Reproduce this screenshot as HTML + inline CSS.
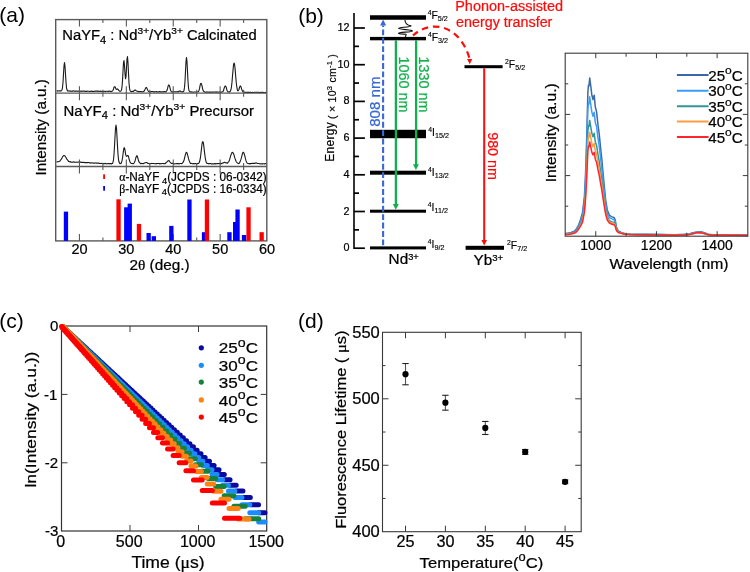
<!DOCTYPE html>
<html><head><meta charset="utf-8"><style>
html,body{margin:0;padding:0;background:#fff;width:750px;height:572px;overflow:hidden}
svg{display:block;font-family:"Liberation Sans", sans-serif;will-change:transform}
</style></head><body>
<svg width="750" height="572" viewBox="0 0 750 572">
<rect width="750" height="572" fill="#fff"/>
<text x="-0.7" y="22.4" font-size="21" text-anchor="start" fill="#000" >(a)</text>
<polyline points="56.5,90.92 57,90.83 57.5,91.09 58,90.8 58.5,91.04 59,90.95 59.5,90.8 60,91.03 60.5,90.79 61,90.96 61.5,90.57 62,89.76 62.5,87.51 63,82.45 63.5,73.99 64,65.92 64.5,62.62 65,66.29 65.5,74.23 66,82.26 66.5,87.81 67,89.77 67.5,91.01 68,90.93 68.5,90.9 69,90.9 69.5,91 70,91.26 70.5,90.94 71,91.15 71.5,91.18 72,91.05 72.5,91.14 73,90.9 73.5,90.9 74,90.98 74.5,91.22 75,91.1 75.5,91.05 76,91.18 76.5,91.12 77,91.05 77.5,91.3 78,91.26 78.5,91.03 79,91.2 79.5,91.18 80,91.36 80.5,91.29 81,91.07 81.5,91.42 82,90.99 82.5,91.15 83,91.32 83.5,91.02 84,91.19 84.5,90.97 85,91.29 85.5,91.34 86,91.25 86.5,91.4 87,91.13 87.5,91.32 88,91.27 88.5,91.27 89,91.21 89.5,91.41 90,91.46 90.5,91.23 91,91.33 91.5,91.03 92,91.36 92.5,91.33 93,91.51 93.5,91.43 94,91.16 94.5,91.22 95,91.36 95.5,91.04 96,91.27 96.5,91.12 97,91.1 97.5,91.07 98,91.43 98.5,91.12 99,91.18 99.5,91.25 100,91.5 100.5,91.11 101,91.29 101.5,91.35 102,91.52 102.5,91.49 103,91.52 103.5,91.23 104,91.3 104.5,91.27 105,91.54 105.5,91.58 106,91.18 106.5,91.2 107,91.23 107.5,91.23 108,91.36 108.5,91.42 109,91.26 109.5,91.13 110,91.34 110.5,91.32 111,91.42 111.5,91.58 112,91.34 112.5,90.92 113,90.22 113.5,89 114,87.24 114.5,86.71 115,86.75 115.5,87.83 116,88.99 116.5,89.37 117,89.28 117.5,88.94 118,89.51 118.5,89.97 119,90.67 119.5,91.12 120,91.24 120.5,91.32 121,90.93 121.5,89.88 122,86.97 122.5,80.61 123,71.39 123.5,62.65 124,60.58 124.5,65.58 125,73.73 125.5,78.82 126,76.6 126.5,68.08 127,58.91 127.5,56.65 128,62.85 128.5,73.35 129,82.85 129.5,88.17 130,90.46 130.5,91.27 131,91.39 131.5,91.7 132,91.36 132.5,91.27 133,91.66 133.5,91.26 134,90.75 134.5,90.53 135,89.93 135.5,90.09 136,90.53 136.5,90.88 137,91.19 137.5,91.25 138,91.44 138.5,91.4 139,91.72 139.5,91.61 140,91.74 140.5,91.52 141,91.47 141.5,91.76 142,91.85 142.5,91.78 143,91.73 143.5,91.62 144,91.28 144.5,90.38 145,89.53 145.5,88.35 146,87.47 146.5,87.56 147,88.53 147.5,89.64 148,90.8 148.5,91.5 149,91.51 149.5,91.85 150,91.91 150.5,91.9 151,91.61 151.5,91.54 152,91.55 152.5,91.53 153,91.54 153.5,91.76 154,91.9 154.5,91.87 155,91.69 155.5,91.78 156,91.86 156.5,91.51 157,91.8 157.5,91.93 158,91.87 158.5,91.85 159,91.72 159.5,91.58 160,91.88 160.5,91.66 161,91.9 161.5,91.99 162,91.7 162.5,91.71 163,91.98 163.5,91.88 164,91.6 164.5,91.58 165,91.59 165.5,91.93 166,91.72 166.5,90.94 167,90.29 167.5,88.73 168,86.6 168.5,85 169,84.95 169.5,85.99 170,87.87 170.5,90.11 171,91.07 171.5,91.56 172,91.97 172.5,91.78 173,92.01 173.5,92 174,91.69 174.5,91.72 175,91.74 175.5,91.72 176,91.9 176.5,91.74 177,91.82 177.5,91.65 178,91.97 178.5,91.49 179,91.21 179.5,90.98 180,91.11 180.5,91.13 181,91.73 181.5,91.76 182,91.88 182.5,91.9 183,91.61 183.5,91.57 184,90.44 184.5,87.41 185,81.43 185.5,71.27 186,61.56 186.5,57.44 187,61.61 187.5,71.36 188,81.31 188.5,87.72 189,90.78 189.5,91.44 190,91.93 190.5,91.82 191,91.85 191.5,92.1 192,91.97 192.5,92 193,92.1 193.5,92.18 194,91.95 194.5,92.04 195,91.99 195.5,92 196,92.09 196.5,91.97 197,92.01 197.5,91.94 198,92.01 198.5,91.42 199,90.46 199.5,88.66 200,85.93 200.5,83.93 201,83.25 201.5,84.08 202,85.88 202.5,88.28 203,90.27 203.5,91.14 204,91.7 204.5,91.78 205,92.13 205.5,92.2 206,92.26 206.5,91.9 207,92.18 207.5,92.16 208,91.9 208.5,92.28 209,92.32 209.5,91.95 210,92.32 210.5,92.05 211,92.1 211.5,92.35 212,92.28 212.5,91.94 213,92.08 213.5,92.13 214,92.04 214.5,91.97 215,92.04 215.5,92.24 216,91.9 216.5,92.17 217,92.11 217.5,91.91 218,92.07 218.5,92.22 219,92.16 219.5,91.94 220,92.41 220.5,92.31 221,92.41 221.5,91.96 222,91.99 222.5,91.69 223,91.58 223.5,90.35 224,88.76 224.5,87.16 225,86.14 225.5,85.97 226,86.77 226.5,88.44 227,90.44 227.5,91.36 228,91.99 228.5,91.91 229,91.93 229.5,92.14 230,91.68 230.5,90.71 231,89.52 231.5,86.48 232,82.16 232.5,76.08 233,70.37 233.5,64.99 234,63.02 234.5,63.86 235,67.9 235.5,73.87 236,80.08 236.5,84.74 237,88.12 237.5,90.26 238,90.8 238.5,90.38 239,89.22 239.5,87.53 240,86.25 240.5,85.94 241,86.78 241.5,88.61 242,90.01 242.5,91.29 243,91.77 243.5,92.13 244,92.06 244.5,92.21 245,92.1 245.5,92.46 246,92.38 246.5,92.2 247,92.35 247.5,92.58 248,92.17 248.5,92.53 249,92.34 249.5,92.37 250,92.55 250.5,92.33 251,92.39 251.5,92.48 252,92.63 252.5,92.32 253,92.57 253.5,92.51 254,92.48 254.5,92.36 255,92.34 255.5,92.2 256,92.24 256.5,92.21 257,92.55 257.5,92.31 258,92.27 258.5,92.23 259,92.61 259.5,92.63 260,92.54 260.5,92.34 261,92.33 261.5,92.36 262,92.44 262.5,92.3 263,92.44 263.5,92.36 264,92.71 264.5,92.72 265,92.51 265.5,92.36 266,92.73" fill="none" stroke="#1a1a1a" stroke-width="1.1" stroke-linejoin="round" />
<polyline points="56.5,161.88 57,161.87 57.5,161.66 58,161.79 58.5,161.73 59,161.59 59.5,161.19 60,160.98 60.5,160.22 61,159.69 61.5,158.8 62,158.07 62.5,157.01 63,156.21 63.5,155.77 64,155.44 64.5,155.66 65,156.01 65.5,156.78 66,157.57 66.5,158.5 67,159.46 67.5,159.98 68,160.58 68.5,161.38 69,161.29 69.5,161.8 70,161.9 70.5,161.68 71,162.13 71.5,162.19 72,162.08 72.5,162.15 73,162.2 73.5,161.87 74,162.08 74.5,162.08 75,162.26 75.5,162.25 76,162.27 76.5,162.16 77,162.33 77.5,162.24 78,162.25 78.5,162.03 79,161.94 79.5,162.01 80,162.13 80.5,162.03 81,162.43 81.5,162.32 82,162.38 82.5,162.41 83,162.47 83.5,162.4 84,162.19 84.5,162.62 85,162.62 85.5,162.53 86,162.58 86.5,162.67 87,162.4 87.5,162.77 88,162.56 88.5,162.5 89,162.62 89.5,162.88 90,162.65 90.5,162.95 91,163.1 91.5,162.89 92,162.86 92.5,162.94 93,163.07 93.5,163.14 94,163.1 94.5,163.14 95,162.89 95.5,162.95 96,163.04 96.5,163.31 97,163.12 97.5,163.28 98,163.04 98.5,163.09 99,163.22 99.5,163.46 100,163.5 100.5,163.5 101,163.33 101.5,163.46 102,163.45 102.5,163.47 103,163.31 103.5,163.71 104,163.38 104.5,163.79 105,163.78 105.5,163.34 106,163.58 106.5,163.78 107,163.87 107.5,163.62 108,163.55 108.5,163.54 109,163.92 109.5,163.57 110,163.77 110.5,163.57 111,163.77 111.5,163.98 112,163.48 112.5,163.45 113,162.2 113.5,159.76 114,154.53 114.5,146.27 115,136.95 115.5,128.53 116,125.03 116.5,128.28 117,136.73 117.5,146.36 118,154.3 118.5,159.35 119,162.07 119.5,163.14 120,163.75 120.5,163.33 121,163.43 121.5,162.69 122,160.65 122.5,158.18 123,154.21 123.5,150.44 124,147.74 124.5,147.87 125,150.18 125.5,153.58 126,155.71 126.5,156.41 127,156.09 127.5,155.46 128,155.46 128.5,156.58 129,158.71 129.5,160.28 130,162.09 130.5,162.7 131,163.21 131.5,163.55 132,163.46 132.5,163.56 133,163.78 133.5,163.57 134,163.1 134.5,162.18 135,160.97 135.5,159.22 136,157.25 136.5,156.15 137,155.69 137.5,157.03 138,158.58 138.5,160.53 139,161.92 139.5,162.67 140,163.04 140.5,163.7 141,163.38 141.5,163.58 142,163.52 142.5,163.48 143,163.66 143.5,163.7 144,163.19 144.5,163.19 145,162.77 145.5,162.71 146,162.56 146.5,162.52 147,162.71 147.5,162.97 148,163.52 148.5,163.47 149,163.41 149.5,163.8 150,163.86 150.5,163.59 151,163.44 151.5,163.46 152,163.41 152.5,163.54 153,163.42 153.5,163.49 154,163.5 154.5,163.66 155,163.82 155.5,163.75 156,163.58 156.5,163.58 157,163.64 157.5,163.57 158,163.55 158.5,163.41 159,163.52 159.5,163.86 160,163.44 160.5,163.63 161,163.7 161.5,163.82 162,163.49 162.5,163.52 163,163.51 163.5,163.58 164,163.58 164.5,163.79 165,163.63 165.5,163.44 166,162.67 166.5,162.19 167,161.94 167.5,161.45 168,160.8 168.5,160.69 169,160.56 169.5,161.2 170,162.06 170.5,162.6 171,163.1 171.5,163.49 172,163.34 172.5,163.38 173,163.45 173.5,163.65 174,163.74 174.5,163.87 175,163.77 175.5,163.73 176,163.79 176.5,163.64 177,163.68 177.5,163.43 178,163.8 178.5,163.53 179,163.87 179.5,163.73 180,163.56 180.5,163.47 181,163.51 181.5,163.64 182,163.53 182.5,162.95 183,162.38 183.5,161.67 184,160.31 184.5,158.37 185,156.2 185.5,154.4 186,152.66 186.5,152.27 187,152.88 187.5,154.58 188,156.41 188.5,158.63 189,160.26 189.5,161.54 190,162.48 190.5,163.39 191,163.55 191.5,163.49 192,163.41 192.5,163.67 193,163.77 193.5,163.64 194,163.56 194.5,163.77 195,163.9 195.5,163.55 196,163.45 196.5,163.61 197,163.64 197.5,163.74 198,163.42 198.5,163.5 199,162.96 199.5,161.8 200,159.77 200.5,157.2 201,152.89 201.5,148.64 202,144.27 202.5,141.71 203,141.73 203.5,143.64 204,147.83 204.5,152.11 205,156.09 205.5,159.28 206,161.47 206.5,162.78 207,163.52 207.5,163.38 208,163.6 208.5,163.55 209,163.94 209.5,163.53 210,163.49 210.5,163.49 211,163.66 211.5,163.91 212,163.91 212.5,163.83 213,163.96 213.5,163.93 214,163.63 214.5,163.56 215,163.94 215.5,163.84 216,163.49 216.5,163.8 217,163.66 217.5,163.66 218,163.64 218.5,163.56 219,163.47 219.5,163.6 220,163.62 220.5,163.88 221,163.4 221.5,163.71 222,163.18 222.5,163.06 223,163.08 223.5,162.88 224,162.55 224.5,162.3 225,162.56 225.5,162.63 226,163.06 226.5,162.83 227,162.96 227.5,163.12 228,162.35 228.5,161.94 229,161.23 229.5,159.96 230,158.08 230.5,156.4 231,154.75 231.5,153.76 232,152.46 232.5,152.37 233,152.79 233.5,153.47 234,154.86 234.5,156.87 235,158.39 235.5,159.74 236,161.23 236.5,161.98 237,162.62 237.5,162.9 238,163.49 238.5,163.6 239,163.28 239.5,163 240,161.76 240.5,160.66 241,159.15 241.5,157.43 242,155.41 242.5,153.41 243,152.32 243.5,152.31 244,153.2 244.5,155.02 245,156.64 245.5,158.95 246,160.63 246.5,161.98 247,162.83 247.5,163.28 248,163.43 248.5,163.57 249,163.65 249.5,163.88 250,163.53 250.5,163.57 251,163.81 251.5,163.51 252,163.35 252.5,163.25 253,163.41 253.5,163.2 254,163.44 254.5,163.32 255,163.33 255.5,162.97 256,162.91 256.5,162.98 257,163.28 257.5,163.48 258,163.45 258.5,163.43 259,163.59 259.5,163.75 260,163.82 260.5,163.88 261,163.94 261.5,163.86 262,163.6 262.5,163.96 263,163.69 263.5,163.83 264,163.73 264.5,163.92 265,163.65 265.5,163.67 266,163.67" fill="none" stroke="#1a1a1a" stroke-width="1.1" stroke-linejoin="round" />
<rect x="55.7" y="19.6" width="211.1" height="221.3" fill="none" stroke="#5a5a5a" stroke-width="1.4"/>
<line x1="55.7" y1="93.2" x2="266.8" y2="93.2" stroke="#5a5a5a" stroke-width="1.3" />
<line x1="55.7" y1="166.5" x2="266.8" y2="166.5" stroke="#5a5a5a" stroke-width="1.3" />
<line x1="79.45" y1="19.6" x2="79.45" y2="26.6" stroke="#5a5a5a" stroke-width="1.1" />
<line x1="79.45" y1="93.2" x2="79.45" y2="86.2" stroke="#5a5a5a" stroke-width="1.1" />
<line x1="79.45" y1="93.2" x2="79.45" y2="100.2" stroke="#5a5a5a" stroke-width="1.1" />
<line x1="79.45" y1="166.5" x2="79.45" y2="159.5" stroke="#5a5a5a" stroke-width="1.1" />
<line x1="79.45" y1="166.5" x2="79.45" y2="173.5" stroke="#5a5a5a" stroke-width="1.1" />
<line x1="79.45" y1="240.9" x2="79.45" y2="233.9" stroke="#5a5a5a" stroke-width="1.1" />
<line x1="102.9" y1="19.6" x2="102.9" y2="23.1" stroke="#5a5a5a" stroke-width="1.1" />
<line x1="102.9" y1="93.2" x2="102.9" y2="89.7" stroke="#5a5a5a" stroke-width="1.1" />
<line x1="102.9" y1="93.2" x2="102.9" y2="96.7" stroke="#5a5a5a" stroke-width="1.1" />
<line x1="102.9" y1="166.5" x2="102.9" y2="163" stroke="#5a5a5a" stroke-width="1.1" />
<line x1="102.9" y1="166.5" x2="102.9" y2="170" stroke="#5a5a5a" stroke-width="1.1" />
<line x1="102.9" y1="240.9" x2="102.9" y2="237.4" stroke="#5a5a5a" stroke-width="1.1" />
<line x1="126.35" y1="19.6" x2="126.35" y2="26.6" stroke="#5a5a5a" stroke-width="1.1" />
<line x1="126.35" y1="93.2" x2="126.35" y2="86.2" stroke="#5a5a5a" stroke-width="1.1" />
<line x1="126.35" y1="93.2" x2="126.35" y2="100.2" stroke="#5a5a5a" stroke-width="1.1" />
<line x1="126.35" y1="166.5" x2="126.35" y2="159.5" stroke="#5a5a5a" stroke-width="1.1" />
<line x1="126.35" y1="166.5" x2="126.35" y2="173.5" stroke="#5a5a5a" stroke-width="1.1" />
<line x1="126.35" y1="240.9" x2="126.35" y2="233.9" stroke="#5a5a5a" stroke-width="1.1" />
<line x1="149.8" y1="19.6" x2="149.8" y2="23.1" stroke="#5a5a5a" stroke-width="1.1" />
<line x1="149.8" y1="93.2" x2="149.8" y2="89.7" stroke="#5a5a5a" stroke-width="1.1" />
<line x1="149.8" y1="93.2" x2="149.8" y2="96.7" stroke="#5a5a5a" stroke-width="1.1" />
<line x1="149.8" y1="166.5" x2="149.8" y2="163" stroke="#5a5a5a" stroke-width="1.1" />
<line x1="149.8" y1="166.5" x2="149.8" y2="170" stroke="#5a5a5a" stroke-width="1.1" />
<line x1="149.8" y1="240.9" x2="149.8" y2="237.4" stroke="#5a5a5a" stroke-width="1.1" />
<line x1="173.25" y1="19.6" x2="173.25" y2="26.6" stroke="#5a5a5a" stroke-width="1.1" />
<line x1="173.25" y1="93.2" x2="173.25" y2="86.2" stroke="#5a5a5a" stroke-width="1.1" />
<line x1="173.25" y1="93.2" x2="173.25" y2="100.2" stroke="#5a5a5a" stroke-width="1.1" />
<line x1="173.25" y1="166.5" x2="173.25" y2="159.5" stroke="#5a5a5a" stroke-width="1.1" />
<line x1="173.25" y1="166.5" x2="173.25" y2="173.5" stroke="#5a5a5a" stroke-width="1.1" />
<line x1="173.25" y1="240.9" x2="173.25" y2="233.9" stroke="#5a5a5a" stroke-width="1.1" />
<line x1="196.7" y1="19.6" x2="196.7" y2="23.1" stroke="#5a5a5a" stroke-width="1.1" />
<line x1="196.7" y1="93.2" x2="196.7" y2="89.7" stroke="#5a5a5a" stroke-width="1.1" />
<line x1="196.7" y1="93.2" x2="196.7" y2="96.7" stroke="#5a5a5a" stroke-width="1.1" />
<line x1="196.7" y1="166.5" x2="196.7" y2="163" stroke="#5a5a5a" stroke-width="1.1" />
<line x1="196.7" y1="166.5" x2="196.7" y2="170" stroke="#5a5a5a" stroke-width="1.1" />
<line x1="196.7" y1="240.9" x2="196.7" y2="237.4" stroke="#5a5a5a" stroke-width="1.1" />
<line x1="220.15" y1="19.6" x2="220.15" y2="26.6" stroke="#5a5a5a" stroke-width="1.1" />
<line x1="220.15" y1="93.2" x2="220.15" y2="86.2" stroke="#5a5a5a" stroke-width="1.1" />
<line x1="220.15" y1="93.2" x2="220.15" y2="100.2" stroke="#5a5a5a" stroke-width="1.1" />
<line x1="220.15" y1="166.5" x2="220.15" y2="159.5" stroke="#5a5a5a" stroke-width="1.1" />
<line x1="220.15" y1="166.5" x2="220.15" y2="173.5" stroke="#5a5a5a" stroke-width="1.1" />
<line x1="220.15" y1="240.9" x2="220.15" y2="233.9" stroke="#5a5a5a" stroke-width="1.1" />
<line x1="243.6" y1="19.6" x2="243.6" y2="23.1" stroke="#5a5a5a" stroke-width="1.1" />
<line x1="243.6" y1="93.2" x2="243.6" y2="89.7" stroke="#5a5a5a" stroke-width="1.1" />
<line x1="243.6" y1="93.2" x2="243.6" y2="96.7" stroke="#5a5a5a" stroke-width="1.1" />
<line x1="243.6" y1="166.5" x2="243.6" y2="163" stroke="#5a5a5a" stroke-width="1.1" />
<line x1="243.6" y1="166.5" x2="243.6" y2="170" stroke="#5a5a5a" stroke-width="1.1" />
<line x1="243.6" y1="240.9" x2="243.6" y2="237.4" stroke="#5a5a5a" stroke-width="1.1" />
<rect x="63.8" y="211.6" width="4.3" height="29.3" fill="#0000ff"/>
<rect x="124.1" y="207.3" width="4.3" height="33.6" fill="#0000ff"/>
<rect x="127.6" y="203.6" width="4.3" height="37.3" fill="#0000ff"/>
<rect x="146.5" y="233" width="4.3" height="7.9" fill="#0000ff"/>
<rect x="151.7" y="236.2" width="4.3" height="4.7" fill="#0000ff"/>
<rect x="169.2" y="225.9" width="4.3" height="15" fill="#0000ff"/>
<rect x="187.3" y="199.5" width="4.3" height="41.4" fill="#0000ff"/>
<rect x="201.9" y="232.2" width="4.3" height="8.7" fill="#0000ff"/>
<rect x="227.3" y="232.2" width="4.3" height="8.7" fill="#0000ff"/>
<rect x="233" y="222" width="4.3" height="18.9" fill="#0000ff"/>
<rect x="235.4" y="209.5" width="4.3" height="31.4" fill="#0000ff"/>
<rect x="241.9" y="235" width="4.3" height="5.9" fill="#0000ff"/>
<rect x="116.4" y="199.3" width="4.3" height="41.6" fill="#ff0000"/>
<rect x="136.8" y="223.9" width="4.3" height="17" fill="#ff0000"/>
<rect x="204.8" y="199.5" width="4.3" height="41.4" fill="#ff0000"/>
<rect x="246.4" y="207.3" width="4.3" height="33.6" fill="#ff0000"/>
<rect x="259.5" y="232.2" width="4.3" height="8.7" fill="#ff0000"/>
<rect x="103.2" y="174.3" width="1.8" height="4.7" fill="#ff0000"/>
<rect x="103.2" y="186" width="1.8" height="4.7" fill="#0000ff"/>
<text x="119.2" y="181.2" font-size="12" text-anchor="start" fill="#000" stroke="#000" stroke-width="0.22" textLength="147.5" lengthAdjust="spacingAndGlyphs" ><tspan font-family="Liberation Serif">α</tspan>-NaYF<tspan dy="2.5" font-size="9.5"> 4</tspan><tspan dy="-2.5">(JCPDS : 06-0342)</tspan></text>
<text x="119.2" y="192.6" font-size="12" text-anchor="start" fill="#000" stroke="#000" stroke-width="0.22" textLength="147.5" lengthAdjust="spacingAndGlyphs" ><tspan font-family="Liberation Serif">β</tspan>-NaYF<tspan dy="2.5" font-size="9.5"> 4</tspan><tspan dy="-2.5">(JCPDS : 16-0334)</tspan></text>
<text x="62.3" y="40.3" font-size="14" text-anchor="start" fill="#000" stroke="#000" stroke-width="0.22" textLength="194.5" lengthAdjust="spacingAndGlyphs" >NaYF<tspan dy="3.4" font-size="10.5">4</tspan><tspan dy="-3.4"> : Nd</tspan><tspan dy="-6.4" font-size="9.6">3+</tspan><tspan dy="6.4">/Yb</tspan><tspan dy="-6.4" font-size="9.6">3+</tspan><tspan dy="6.4"> Calcinated</tspan></text>
<text x="63.6" y="116" font-size="14" text-anchor="start" fill="#000" stroke="#000" stroke-width="0.22" textLength="190.5" lengthAdjust="spacingAndGlyphs" >NaYF<tspan dy="3.4" font-size="10.5">4</tspan><tspan dy="-3.4"> : Nd</tspan><tspan dy="-6.4" font-size="9.6">3+</tspan><tspan dy="6.4">/Yb</tspan><tspan dy="-6.4" font-size="9.6">3+</tspan><tspan dy="6.4"> Precursor</tspan></text>
<text x="79.45" y="254.2" font-size="14.5" text-anchor="middle" fill="#000" stroke="#000" stroke-width="0.22" >20</text>
<text x="126.35" y="254.2" font-size="14.5" text-anchor="middle" fill="#000" stroke="#000" stroke-width="0.22" >30</text>
<text x="173.25" y="254.2" font-size="14.5" text-anchor="middle" fill="#000" stroke="#000" stroke-width="0.22" >40</text>
<text x="220.15" y="254.2" font-size="14.5" text-anchor="middle" fill="#000" stroke="#000" stroke-width="0.22" >50</text>
<text x="267.05" y="254.2" font-size="14.5" text-anchor="middle" fill="#000" stroke="#000" stroke-width="0.22" >60</text>
<text x="129.4" y="269.8" font-size="14" text-anchor="start" fill="#000" stroke="#000" stroke-width="0.22" textLength="60.3" lengthAdjust="spacingAndGlyphs" >2<tspan font-family="Liberation Serif">θ</tspan> (deg.)</text>
<text x="0" y="0" font-size="14.5" text-anchor="start" fill="#000" stroke="#000" stroke-width="0.22" textLength="96.5" lengthAdjust="spacingAndGlyphs" transform="translate(46.4,175.6) rotate(-90)">Intensity (a.u.)</text>
<text x="298.2" y="22.6" font-size="21" text-anchor="start" fill="#000" >(b)</text>
<line x1="354" y1="13" x2="354" y2="249" stroke="#000" stroke-width="1.6" />
<line x1="354" y1="248.2" x2="364.9" y2="248.2" stroke="#000" stroke-width="1.7" />
<text x="349.5" y="251.2" font-size="10.8" text-anchor="end" fill="#000" stroke="#000" stroke-width="0.22" >0</text>
<line x1="354" y1="229.85" x2="359" y2="229.85" stroke="#000" stroke-width="1.7" />
<line x1="354" y1="211.5" x2="364.9" y2="211.5" stroke="#000" stroke-width="1.7" />
<text x="349.5" y="214.5" font-size="10.8" text-anchor="end" fill="#000" stroke="#000" stroke-width="0.22" >2</text>
<line x1="354" y1="193.15" x2="359" y2="193.15" stroke="#000" stroke-width="1.7" />
<line x1="354" y1="174.8" x2="364.9" y2="174.8" stroke="#000" stroke-width="1.7" />
<text x="349.5" y="177.8" font-size="10.8" text-anchor="end" fill="#000" stroke="#000" stroke-width="0.22" >4</text>
<line x1="354" y1="156.45" x2="359" y2="156.45" stroke="#000" stroke-width="1.7" />
<line x1="354" y1="138.1" x2="364.9" y2="138.1" stroke="#000" stroke-width="1.7" />
<text x="349.5" y="141.1" font-size="10.8" text-anchor="end" fill="#000" stroke="#000" stroke-width="0.22" >6</text>
<line x1="354" y1="119.75" x2="359" y2="119.75" stroke="#000" stroke-width="1.7" />
<line x1="354" y1="101.4" x2="364.9" y2="101.4" stroke="#000" stroke-width="1.7" />
<text x="349.5" y="104.4" font-size="10.8" text-anchor="end" fill="#000" stroke="#000" stroke-width="0.22" >8</text>
<line x1="354" y1="83.05" x2="359" y2="83.05" stroke="#000" stroke-width="1.7" />
<line x1="354" y1="64.7" x2="364.9" y2="64.7" stroke="#000" stroke-width="1.7" />
<text x="349.5" y="67.7" font-size="10.8" text-anchor="end" fill="#000" stroke="#000" stroke-width="0.22" >10</text>
<line x1="354" y1="46.35" x2="359" y2="46.35" stroke="#000" stroke-width="1.7" />
<line x1="354" y1="28" x2="364.9" y2="28" stroke="#000" stroke-width="1.7" />
<text x="349.5" y="31" font-size="10.8" text-anchor="end" fill="#000" stroke="#000" stroke-width="0.22" >12</text>
<text transform="translate(334.3,161.7) rotate(-90)" font-size="12" fill="#000" stroke="#000" stroke-width="0.18" textLength="107.5" lengthAdjust="spacing">Energy<tspan font-size="10.5" dy="1.8"> ( × 10</tspan><tspan font-size="7.5" dy="-4">3</tspan><tspan font-size="10.5" dy="4"> cm</tspan><tspan font-size="7.5" dy="-4">-1</tspan><tspan font-size="10.5" dy="4"> )</tspan></text>
<rect x="370" y="15.25" width="56" height="4.5" fill="#000"/>
<rect x="370" y="36.9" width="56" height="3.4" fill="#000"/>
<rect x="370" y="129.8" width="56" height="8.4" fill="#000"/>
<rect x="370" y="170.7" width="56" height="4" fill="#000"/>
<rect x="370" y="209.7" width="56" height="3" fill="#000"/>
<rect x="370" y="246.4" width="56" height="3" fill="#000"/>
<rect x="464.5" y="65.2" width="38.1" height="3" fill="#000"/>
<rect x="465.6" y="245.8" width="38.4" height="4" fill="#000"/>
<text x="427.7" y="18.6" font-size="10.4" fill="#000" stroke="#000" stroke-width="0.15"><tspan font-size="6.8" dy="-3.8">4</tspan><tspan dy="3.8">F</tspan><tspan font-size="7.2" dy="2.0">5/2</tspan></text>
<text x="427.9" y="41" font-size="10.4" fill="#000" stroke="#000" stroke-width="0.15"><tspan font-size="6.8" dy="-3.8">4</tspan><tspan dy="3.8">F</tspan><tspan font-size="7.2" dy="2.0">3/2</tspan></text>
<text x="428.3" y="135.9" font-size="10.4" fill="#000" stroke="#000" stroke-width="0.15"><tspan font-size="6.8" dy="-3.8">4</tspan><tspan dy="3.8">I</tspan><tspan font-size="7.2" dy="2.0">15/2</tspan></text>
<text x="428" y="175.5" font-size="10.4" fill="#000" stroke="#000" stroke-width="0.15"><tspan font-size="6.8" dy="-3.8">4</tspan><tspan dy="3.8">I</tspan><tspan font-size="7.2" dy="2.0">13/2</tspan></text>
<text x="427.8" y="210.8" font-size="10.4" fill="#000" stroke="#000" stroke-width="0.15"><tspan font-size="6.8" dy="-3.8">4</tspan><tspan dy="3.8">I</tspan><tspan font-size="7.2" dy="2.0">11/2</tspan></text>
<text x="427.8" y="248" font-size="10.4" fill="#000" stroke="#000" stroke-width="0.15"><tspan font-size="6.8" dy="-3.8">4</tspan><tspan dy="3.8">I</tspan><tspan font-size="7.2" dy="2.0">9/2</tspan></text>
<text x="505" y="67.5" font-size="10.4" fill="#000" stroke="#000" stroke-width="0.15"><tspan font-size="6.8" dy="-3.8">2</tspan><tspan dy="3.8">F</tspan><tspan font-size="7.2" dy="2.0">5/2</tspan></text>
<text x="507" y="248.8" font-size="10.4" fill="#000" stroke="#000" stroke-width="0.15"><tspan font-size="6.8" dy="-3.8">2</tspan><tspan dy="3.8">F</tspan><tspan font-size="7.2" dy="2.0">7/2</tspan></text>
<text x="388.6" y="264" font-size="14" text-anchor="start" fill="#000" stroke="#000" stroke-width="0.22" textLength="30.2" lengthAdjust="spacingAndGlyphs" >Nd<tspan font-size="8.5" dy="-4.3">3+</tspan></text>
<text x="473.6" y="264.8" font-size="14.3" text-anchor="start" fill="#000" stroke="#000" stroke-width="0.22" textLength="29.6" lengthAdjust="spacingAndGlyphs" >Yb<tspan font-size="9" dy="-4.3">3+</tspan></text>
<line x1="383.1" y1="245.3" x2="383.1" y2="25.4" stroke="#3a68d6" stroke-width="2.1" stroke-dasharray="5.9 2.5"/>
<polygon points="380.1,25.6 386.1,25.6 383.1,19.6" fill="#3a68d6"/>
<line x1="395.9" y1="40.2" x2="395.9" y2="205" stroke="#10b04c" stroke-width="2.3" />
<polygon points="392.8,204 398.8,204 395.8,209.8" fill="#10b04c"/>
<line x1="416.1" y1="40.2" x2="416.1" y2="165" stroke="#10b04c" stroke-width="2.3" />
<polygon points="412.9,164.2 418.9,164.2 415.9,169.9" fill="#10b04c"/>
<line x1="484.2" y1="68.2" x2="484.2" y2="241" stroke="#ff0a0a" stroke-width="2" />
<polygon points="481.4,240 487,240 484.2,245.6" fill="#ff0a0a"/>
<path d="M413,35.5 C432.5,18 460.5,26.5 469.5,58.5" fill="none" stroke="#ff0a0a" stroke-width="2.2" stroke-dasharray="6.5 4.8" stroke-dashoffset="0.5"/>
<polygon points="467,59 472.2,59 469.8,64.3" fill="#ff0a0a"/>
<path d="M405,19.9 C405,23.5 407,25 411,25.9 C411,27 398.4,27.5 398.4,28.3 C398.4,29.3 412.5,30 412.5,30.9 C412.5,32 398.4,32.2 398.4,33.2 C398.4,34.3 406.3,34 406.3,34.5 L405.2,36.9" fill="none" stroke="#111" stroke-width="1.1"/>
<text x="455.2" y="10.5" font-size="14" text-anchor="start" fill="#ff0a0a" stroke="#ff0a0a" stroke-width="0.22" textLength="107.8" lengthAdjust="spacingAndGlyphs" >Phonon-assisted</text>
<text x="456.1" y="27.2" font-size="14" text-anchor="start" fill="#ff0a0a" stroke="#ff0a0a" stroke-width="0.22" textLength="96.3" lengthAdjust="spacingAndGlyphs" >energy transfer</text>
<text x="0" y="0" font-size="14" text-anchor="start" fill="#3a68d6" stroke="#3a68d6" stroke-width="0.22" textLength="50.4" lengthAdjust="spacingAndGlyphs" transform="translate(379.6,126.8) rotate(-90)">808 nm</text>
<text x="0" y="0" font-size="14" text-anchor="start" fill="#10b04c" stroke="#10b04c" stroke-width="0.22" textLength="56" lengthAdjust="spacingAndGlyphs" transform="translate(399.4,56.4) rotate(90)">1060 nm</text>
<text x="0" y="0" font-size="14" text-anchor="start" fill="#10b04c" stroke="#10b04c" stroke-width="0.22" textLength="56" lengthAdjust="spacingAndGlyphs" transform="translate(418.5,56.4) rotate(90)">1330 nm</text>
<text x="0" y="0" font-size="14" text-anchor="start" fill="#ff0a0a" stroke="#ff0a0a" stroke-width="0.22" textLength="47.6" lengthAdjust="spacingAndGlyphs" transform="translate(488.3,132.2) rotate(90)">980 nm</text>
<polyline points="565.4,233.16 568,233.26 571,232.55 574,231.36 576,229.69 578.4,225.44 580.5,219.75 582.5,212.65 584.4,196.89 585.5,174.83 586.5,144.97 587.3,114.61 587.9,91.76 588.5,84.9 589,85.91 589.7,77.95 590.6,84.6 591.8,94.71 593,99.64 594.2,95.17 595.3,106.99 596.6,111.84 598,124.98 599.2,133.76 600.5,146.96 601.9,160.1 603.2,174.73 604.5,188.24 605.7,200.31 607.3,209.98 609.4,215.38 612,216.9 614.1,217.55 615.2,219.81 616.2,226.22 617.2,229.25 618.3,230.98 621.5,232.73 625,233.76 630,234.09 645,234.27 660,234.54 675,234.73 685,234.37 689,234.03 693,232.8 696,232.25 699,231.86 702,231.97 705,233 708,234.23 712,234.7 725,234.88 740,234.81 747.6,234.86" fill="none" stroke="#3a6aa6" stroke-width="1.5" stroke-linejoin="round" />
<polyline points="565.4,233.7 568,233.42 571,232.85 574,231.9 576,230.67 578.4,226.47 580.5,221.75 582.5,215.53 584.4,201.37 585.5,182.23 586.5,155.95 587.3,129.36 587.9,109.1 588.5,103.17 589,103.84 589.7,96.74 590.6,103.24 591.8,111.84 593,116.39 594.2,112.28 595.3,122.57 596.6,126.79 598,138.09 599.2,145.94 600.5,157.57 601.9,169.29 603.2,182.31 604.5,193.66 605.7,204.42 607.3,213.1 609.4,217.73 612,218.91 614.1,219.67 615.2,221.7 616.2,227.58 617.2,229.89 618.3,231.53 621.5,233 625,234.02 630,234.2 645,234.4 660,234.87 675,234.94 685,234.58 689,234.05 693,233.29 696,232.33 699,232.26 702,232.44 705,233.47 708,234.25 712,234.89 725,234.8 740,235.01 747.6,235.22" fill="none" stroke="#3c9cfa" stroke-width="1.5" stroke-linejoin="round" />
<polyline points="565.4,234.14 568,233.75 571,233.34 574,232.62 576,231.44 578.4,228.12 580.5,224.02 582.5,218.99 584.4,207.23 585.5,191.31 586.5,169.16 587.3,147.56 587.9,130.92 588.5,125.54 589,126.59 589.7,120.49 590.6,125.77 591.8,133.03 593,136.7 594.2,133.3 595.3,141.71 596.6,145.42 598,154.81 599.2,161.45 600.5,170.82 601.9,180.49 603.2,191.01 604.5,200.93 605.7,209.6 607.3,216.78 609.4,220.77 612,221.88 614.1,222.34 615.2,223.83 616.2,228.68 617.2,230.72 618.3,231.96 621.5,233.09 625,233.83 630,234.42 645,234.67 660,234.62 675,234.91 685,234.54 689,234.47 693,233.47 696,232.68 699,232.25 702,232.7 705,233.52 708,234.71 712,234.74 725,235.16 740,235.35 747.6,235.27" fill="none" stroke="#339696" stroke-width="1.5" stroke-linejoin="round" />
<polyline points="565.4,234.33 568,233.96 571,233.89 574,232.98 576,232.06 578.4,229.11 580.5,225.22 582.5,220.9 584.4,210.08 585.5,195.35 586.5,175.85 587.3,156.4 587.9,141.12 588.5,136.84 589,137.24 589.7,132.23 590.6,136.54 591.8,143.23 593,146.67 594.2,143.45 595.3,150.99 596.6,154.36 598,162.8 599.2,168.57 600.5,177.14 601.9,185.83 603.2,195.76 604.5,204.36 605.7,212.3 607.3,218.55 609.4,222.21 612,222.93 614.1,223.62 615.2,225.11 616.2,229.25 617.2,231.42 618.3,232.41 621.5,233.27 625,234.23 630,234.35 645,234.92 660,234.91 675,234.86 685,234.89 689,234.36 693,233.67 696,232.85 699,232.53 702,232.95 705,233.65 708,234.47 712,235.04 725,234.89 740,235.33 747.6,235.13" fill="none" stroke="#ff9e40" stroke-width="1.5" stroke-linejoin="round" />
<polyline points="565.4,234.42 568,234.45 571,233.95 574,233.34 576,232.2 578.4,229.43 580.5,226.21 582.5,222.13 584.4,212.39 585.5,199.34 586.5,181.68 587.3,164.13 587.9,150.26 588.5,146.17 589,146.93 589.7,141.96 590.6,146.08 591.8,152.13 593,154.98 594.2,152.43 595.3,159.17 596.6,162.27 598,169.94 599.2,175.1 600.5,182.95 601.9,190.74 603.2,199.28 604.5,207.45 605.7,214.26 607.3,220.13 609.4,223.18 612,224.29 614.1,224.86 615.2,226.13 616.2,229.81 617.2,231.53 618.3,232.44 621.5,233.4 625,234.17 630,234.5 645,234.83 660,234.88 675,235.12 685,234.91 689,234.42 693,233.74 696,232.77 699,232.73 702,232.93 705,233.67 708,234.48 712,235.1 725,234.92 740,235.26 747.6,235.44" fill="none" stroke="#ff2530" stroke-width="1.5" stroke-linejoin="round" />
<rect x="565.2" y="53.2" width="182.6" height="183" fill="none" stroke="#3a3a3a" stroke-width="1.1"/>
<line x1="595.75" y1="236.2" x2="595.75" y2="231.2" stroke="#3a3a3a" stroke-width="1" />
<line x1="595.75" y1="53.2" x2="595.75" y2="58.2" stroke="#3a3a3a" stroke-width="1" />
<line x1="626.1" y1="236.2" x2="626.1" y2="232.7" stroke="#3a3a3a" stroke-width="1" />
<line x1="626.1" y1="53.2" x2="626.1" y2="56.7" stroke="#3a3a3a" stroke-width="1" />
<line x1="656.45" y1="236.2" x2="656.45" y2="231.2" stroke="#3a3a3a" stroke-width="1" />
<line x1="656.45" y1="53.2" x2="656.45" y2="58.2" stroke="#3a3a3a" stroke-width="1" />
<line x1="686.8" y1="236.2" x2="686.8" y2="232.7" stroke="#3a3a3a" stroke-width="1" />
<line x1="686.8" y1="53.2" x2="686.8" y2="56.7" stroke="#3a3a3a" stroke-width="1" />
<line x1="717.15" y1="236.2" x2="717.15" y2="231.2" stroke="#3a3a3a" stroke-width="1" />
<line x1="717.15" y1="53.2" x2="717.15" y2="58.2" stroke="#3a3a3a" stroke-width="1" />
<line x1="565.2" y1="83.8" x2="568.2" y2="83.8" stroke="#3a3a3a" stroke-width="1" />
<line x1="747.8" y1="83.8" x2="744.8" y2="83.8" stroke="#3a3a3a" stroke-width="1" />
<line x1="565.2" y1="114.4" x2="570.2" y2="114.4" stroke="#3a3a3a" stroke-width="1" />
<line x1="747.8" y1="114.4" x2="742.8" y2="114.4" stroke="#3a3a3a" stroke-width="1" />
<line x1="565.2" y1="145" x2="568.2" y2="145" stroke="#3a3a3a" stroke-width="1" />
<line x1="747.8" y1="145" x2="744.8" y2="145" stroke="#3a3a3a" stroke-width="1" />
<line x1="565.2" y1="175.6" x2="570.2" y2="175.6" stroke="#3a3a3a" stroke-width="1" />
<line x1="747.8" y1="175.6" x2="742.8" y2="175.6" stroke="#3a3a3a" stroke-width="1" />
<line x1="565.2" y1="206.2" x2="568.2" y2="206.2" stroke="#3a3a3a" stroke-width="1" />
<line x1="747.8" y1="206.2" x2="744.8" y2="206.2" stroke="#3a3a3a" stroke-width="1" />
<text x="595.75" y="250.2" font-size="14" text-anchor="middle" fill="#000" stroke="#000" stroke-width="0.22" >1000</text>
<text x="656.45" y="250.2" font-size="14" text-anchor="middle" fill="#000" stroke="#000" stroke-width="0.22" >1200</text>
<text x="717.15" y="250.2" font-size="14" text-anchor="middle" fill="#000" stroke="#000" stroke-width="0.22" >1400</text>
<text x="609.6" y="268.6" font-size="14.5" text-anchor="start" fill="#000" stroke="#000" stroke-width="0.22" textLength="119" lengthAdjust="spacingAndGlyphs" >Wavelength (nm)</text>
<text x="0" y="0" font-size="14.5" text-anchor="start" fill="#000" stroke="#000" stroke-width="0.22" textLength="99" lengthAdjust="spacingAndGlyphs" transform="translate(555.6,182.3) rotate(-90)">Intensity (a.u.)</text>
<line x1="676.9" y1="75" x2="708.6" y2="75" stroke="#3a6aa6" stroke-width="2" />
<text x="708.2" y="80.6" font-size="14.5" text-anchor="start" fill="#000" stroke="#000" stroke-width="0.22" textLength="34.6" lengthAdjust="spacingAndGlyphs" >25<tspan font-size="11.5" dy="-6.3">o</tspan><tspan dy="6.3">C</tspan></text>
<line x1="676.9" y1="90.8" x2="708.6" y2="90.8" stroke="#3c9cfa" stroke-width="2" />
<text x="708.2" y="96.4" font-size="14.5" text-anchor="start" fill="#000" stroke="#000" stroke-width="0.22" textLength="34.6" lengthAdjust="spacingAndGlyphs" >30<tspan font-size="11.5" dy="-6.3">o</tspan><tspan dy="6.3">C</tspan></text>
<line x1="676.9" y1="106.2" x2="708.6" y2="106.2" stroke="#339696" stroke-width="2" />
<text x="708.2" y="111.8" font-size="14.5" text-anchor="start" fill="#000" stroke="#000" stroke-width="0.22" textLength="34.6" lengthAdjust="spacingAndGlyphs" >35<tspan font-size="11.5" dy="-6.3">o</tspan><tspan dy="6.3">C</tspan></text>
<line x1="676.9" y1="121.5" x2="708.6" y2="121.5" stroke="#ff9e40" stroke-width="2" />
<text x="708.2" y="127.1" font-size="14.5" text-anchor="start" fill="#000" stroke="#000" stroke-width="0.22" textLength="34.6" lengthAdjust="spacingAndGlyphs" >40<tspan font-size="11.5" dy="-6.3">o</tspan><tspan dy="6.3">C</tspan></text>
<line x1="676.9" y1="137" x2="708.6" y2="137" stroke="#ff2530" stroke-width="2" />
<text x="708.2" y="142.6" font-size="14.5" text-anchor="start" fill="#000" stroke="#000" stroke-width="0.22" textLength="34.6" lengthAdjust="spacingAndGlyphs" >45<tspan font-size="11.5" dy="-6.3">o</tspan><tspan dy="6.3">C</tspan></text>
<text x="-0.7" y="327.8" font-size="21" text-anchor="start" fill="#000" >(c)</text>
<rect x="61.5" y="326.0" width="205.2" height="205" fill="none" stroke="#333" stroke-width="1.2"/>
<path d="M62.5,326.5H62.8M62.8,327.06H63.41M63.4,327.63H64.02M64.02,328.2H64.64M64.63,328.78H65.26M65.25,329.36H65.88M65.88,329.95H66.52M66.51,330.54H67.15M67.15,331.14H67.8M67.79,331.74H68.45M68.44,332.35H69.1M69.09,332.96H69.76M69.76,333.58H70.43M70.42,334.21H71.1M71.09,334.84H71.78M71.77,335.47H72.46M72.46,336.12H73.16M73.15,336.76H73.85M73.85,337.42H74.56M74.55,338.08H75.27M75.26,338.75H75.99M75.98,339.42H76.72M76.71,340.1H77.45M77.44,340.79H78.19M78.18,341.48H78.94M78.93,342.18H79.69M79.69,342.89H80.46M80.45,343.61H81.23M81.22,344.33H82.01M82,345.07H82.8M82.79,345.8H83.59M83.59,346.55H84.4M84.39,347.31H85.21M85.21,348.07H86.04M86.03,348.85H86.87M86.86,349.63H87.71M87.71,350.42H88.57M88.56,351.22H89.43M89.42,352.03H90.3M90.29,352.85H91.19M91.18,353.68H92.08M92.07,354.51H92.99M92.98,355.36H93.9M93.89,356.22H94.83M94.82,357.1H95.77M95.76,357.98H96.72M96.71,358.87H97.69M97.68,359.78H98.66M98.66,360.7H99.65M99.65,361.63H100.66M100.65,362.57H101.68M101.67,363.53H102.71M102.7,364.5H103.76M103.75,365.48H104.82M104.81,366.48H105.9M105.89,367.49H106.99M106.98,368.52H108.1M108.09,369.57H109.23M109.22,370.63H110.38M110.37,371.7H111.54M111.53,372.8H112.72M112.71,373.91H113.93M113.91,375.04H115.15M115.14,376.19H116.39M116.38,377.36H117.65M117.64,378.55H118.94M118.93,379.76H120.25M120.24,380.99H121.58M121.57,382.25H122.94M122.93,383.53H124.32M124.31,384.83H125.73M125.72,386.16H127.17M127.16,387.51H128.64M128.63,388.89H130.14M130.12,390.3H131.66M131.65,391.74H133.22M133.21,393.22H134.82M134.8,394.72H136.45M136.43,396.26H138.11M138.1,397.83H139.82M139.8,399.44H141.56M141.55,401.09H143.35M143.34,402.78H145.19M145.17,404.51H147.07M147.05,406.28H149M148.98,408.11H150.98M150.96,409.98H153.01M152.99,411.91H155.11M155.09,413.89H157.27M157.25,415.93H159.49M159.47,418.04H161.78M161.76,420.21H164.14M164.12,422.45H166.59M166.57,424.77H169.12M169.09,427.17H171.74M171.72,429.66H174.46M174.46,432.24H177.3M177.3,434.92H180.26M180.26,437.72H183.35M183.35,440.63H186.56M186.56,443.67H189.93M189.93,446.85H193.45M193.45,450.19H197.15M197.15,453.7H201.04M201.04,457.39H205.16M205.16,461.3H209.51M209.51,465.45H214.13M214.13,469.86H219.07M219.07,474.58H224.35M224.35,479.65H230.05M230.05,485.13H236.22M236.22,491.08H242.95M242.95,497.6H250.35M250.35,504.8H258.58M258.58,512.86H264.95" stroke="#0a0aa0" stroke-width="5" stroke-linecap="round" fill="none"/>
<path d="M62.7,326.5H62.99M62.98,327.06H63.57M63.56,327.63H64.15M64.14,328.2H64.74M64.73,328.78H65.33M65.32,329.36H65.93M65.92,329.95H66.53M66.52,330.54H67.14M67.13,331.14H67.75M67.74,331.74H68.37M68.36,332.35H68.99M68.99,332.96H69.62M69.62,333.58H70.26M70.25,334.21H70.9M70.89,334.84H71.55M71.54,335.47H72.2M72.19,336.12H72.86M72.85,336.76H73.53M73.52,337.42H74.2M74.19,338.08H74.88M74.87,338.75H75.56M75.55,339.42H76.25M76.25,340.1H76.95M76.94,340.79H77.66M77.65,341.48H78.37M78.36,342.18H79.09M79.08,342.89H79.82M79.81,343.61H80.56M80.55,344.33H81.3M81.29,345.07H82.05M82.04,345.8H82.81M82.8,346.55H83.58M83.57,347.31H84.36M84.35,348.07H85.14M85.13,348.85H85.94M85.93,349.63H86.74M86.73,350.42H87.55M87.54,351.22H88.37M88.36,352.03H89.21M89.2,352.85H90.05M90.04,353.68H90.9M90.89,354.51H91.76M91.75,355.36H92.64M92.63,356.22H93.52M93.51,357.1H94.42M94.41,357.98H95.33M95.32,358.87H96.25M96.24,359.78H97.18M97.17,360.7H98.12M98.11,361.63H99.08M99.07,362.57H100.05M100.04,363.53H101.04M101.02,364.5H102.03M102.02,365.48H103.05M103.03,366.48H104.07M104.06,367.49H105.12M105.11,368.52H106.18M106.16,369.57H107.25M107.24,370.63H108.34M108.33,371.7H109.45M109.44,372.8H110.58M110.57,373.91H111.73M111.71,375.04H112.89M112.88,376.19H114.08M114.06,377.36H115.28M115.27,378.55H116.51M116.49,379.76H117.76M117.74,380.99H119.03M119.01,382.25H120.32M120.31,383.53H121.64M121.63,384.83H122.99M122.97,386.16H124.36M124.34,387.51H125.75M125.74,388.89H127.18M127.16,390.3H128.64M128.62,391.74H130.12M130.11,393.22H131.64M131.63,394.72H133.2M133.18,396.26H134.79M134.77,397.83H136.41M136.39,399.44H138.08M138.06,401.09H139.78M139.76,402.78H141.53M141.51,404.51H143.32M143.3,406.28H145.16M145.14,408.11H147.05M147.03,409.98H148.99M148.97,411.91H150.99M150.97,413.89H153.05M153.02,415.93H155.16M155.14,418.04H157.35M157.32,420.21H159.6M159.58,422.45H161.93M161.91,424.77H164.35M164.32,427.17H166.84M166.82,429.66H169.44M169.44,432.24H172.16M172.16,434.92H174.99M174.99,437.72H177.93M177.93,440.63H181.01M181.01,443.67H184.22M184.22,446.85H187.59M187.59,450.19H191.12M191.12,453.7H194.84M194.84,457.39H198.77M198.77,461.3H202.93M202.93,465.45H207.35M207.35,469.86H212.06M212.06,474.58H217.12M217.12,479.65H222.56M222.56,485.13H228.45M228.45,491.08H234.88M234.88,497.6H241.96M241.96,504.8H249.82M249.82,512.86H258.67M258.67,521.99H264.95" stroke="#1a8cff" stroke-width="5" stroke-linecap="round" fill="none"/>
<path d="M62.7,326.5H63.11M63.1,327.33H63.92M63.91,328.17H64.75M64.74,329.02H65.59M65.58,329.88H66.43M66.42,330.75H67.29M67.28,331.63H68.16M68.15,332.53H69.04M69.03,333.43H69.93M69.92,334.35H70.83M70.82,335.28H71.75M71.74,336.22H72.68M72.67,337.18H73.62M73.61,338.15H74.58M74.57,339.14H75.55M75.54,340.13H76.53M76.52,341.15H77.53M77.52,342.18H78.54M78.53,343.22H79.57M79.56,344.28H80.62M80.6,345.36H81.68M81.67,346.45H82.76M82.74,347.56H83.85M83.84,348.7H84.97M84.95,349.85H86.1M86.09,351.01H87.25M87.24,352.2H88.43M88.41,353.41H89.62M89.61,354.65H90.84M90.82,355.9H92.08M92.06,357.18H93.34M93.32,358.48H94.63M94.61,359.81H95.94M95.92,361.17H97.28M97.26,362.55H98.64M98.62,363.96H100.03M100.02,365.4H101.46M101.44,366.87H102.91M102.89,368.37H104.4M104.38,369.91H105.92M105.9,371.48H107.47M107.45,373.09H109.07M109.05,374.74H110.7M110.68,376.43H112.37M112.35,378.16H114.08M114.06,379.94H115.85M115.82,381.76H117.65M117.63,383.64H119.51M119.49,385.56H121.42M121.4,387.55H123.39M123.37,389.59H125.42M125.39,391.69H127.51M127.48,393.86H129.67M129.64,396.11H131.9M131.87,398.43H134.2M134.17,400.83H136.59M136.56,403.31H139.07M139.04,405.89H141.64M141.61,408.58H144.32M144.29,411.37H147.11M147.07,414.28H150.02M149.98,417.32H153.06M153.02,420.5H156.24M156.2,423.84H159.59M159.55,427.35H163.11M163.09,431.05H166.85M166.85,434.96H170.83M170.83,439.1H175.06M175.06,443.52H179.58M179.58,448.24H184.41M184.41,453.31H189.62M189.62,458.78H195.27M195.27,464.73H201.42M201.42,471.25H208.2M208.2,478.46H215.72M215.72,486.51H224.19M224.19,495.65H233.88M233.88,506.19H245.18M245.18,518.66H258.77" stroke="#14823c" stroke-width="5" stroke-linecap="round" fill="none"/>
<path d="M63.1,326.5H63.42M63.41,327.19H64.07M64.06,327.88H64.72M64.7,328.58H65.37M65.36,329.29H66.03M66.02,330.01H66.7M66.69,330.73H67.38M67.37,331.46H68.06M68.05,332.2H68.76M68.74,332.95H69.45M69.44,333.71H70.16M70.15,334.47H70.88M70.86,335.24H71.6M71.59,336.03H72.33M72.32,336.82H73.07M73.06,337.62H73.82M73.8,338.43H74.57M74.56,339.24H75.34M75.33,340.07H76.12M76.1,340.91H76.9M76.89,341.76H77.7M77.68,342.62H78.5M78.49,343.49H79.32M79.3,344.38H80.14M80.13,345.27H80.98M80.97,346.18H81.83M81.81,347.1H82.69M82.67,348.03H83.56M83.54,348.97H84.44M84.43,349.93H85.34M85.32,350.9H86.25M86.23,351.88H87.17M87.15,352.88H88.1M88.09,353.89H89.05M89.04,354.92H90.02M90,355.97H91M90.98,357.03H91.99M91.97,358.1H93M92.98,359.2H94.03M94.01,360.31H95.07M95.05,361.44H96.13M96.11,362.59H97.21M97.19,363.76H98.3M98.28,364.95H99.42M99.4,366.16H100.55M100.54,367.39H101.71M101.69,368.65H102.89M102.87,369.93H104.09M104.07,371.23H105.31M105.29,372.56H106.56M106.54,373.91H107.83M107.81,375.29H109.13M109.11,376.7H110.46M110.43,378.14H111.81M111.79,379.61H113.19M113.17,381.12H114.61M114.58,382.66H116.05M116.03,384.23H117.53M117.51,385.84H119.05M119.02,387.49H120.6M120.57,389.17H122.19M122.16,390.91H123.82M123.79,392.68H125.49M125.46,394.51H127.21M127.18,396.38H128.98M128.95,398.31H130.8M130.77,400.29H132.67M132.64,402.33H134.6M134.56,404.44H136.58M136.55,406.61H138.64M138.6,408.85H140.76M140.72,411.17H142.95M142.91,413.57H145.22M145.18,416.06H147.58M147.54,418.64H150.03M149.98,421.32H152.57M152.53,424.11H155.22M155.18,427.03H157.99M157.96,430.07H160.9M160.9,433.25H163.98M163.98,436.59H167.21M167.21,440.09H170.61M170.61,443.79H174.21M174.21,447.7H178.01M178.01,451.85H182.06M182.06,456.26H186.37M186.37,460.98H190.99M190.99,466.05H195.97M195.97,471.53H201.36M201.36,477.48H207.24M207.24,484H213.71M213.71,491.2H220.9M220.9,499.26H229M229,508.39H238.25M238.25,518.94H249.05" stroke="#ff8214" stroke-width="5" stroke-linecap="round" fill="none"/>
<path d="M61.5,326.5H61.96M61.96,327.54H62.9M62.9,328.6H63.84M63.84,329.68H64.81M64.81,330.78H65.79M65.79,331.89H66.78M66.78,333.02H67.79M67.79,334.17H68.82M68.82,335.34H69.87M69.87,336.53H70.93M70.93,337.74H72.02M72.02,338.97H73.12M73.12,340.23H74.24M74.24,341.5H75.39M75.39,342.81H76.56M76.56,344.14H77.75M77.75,345.49H78.96M78.96,346.87H80.2M80.2,348.28H81.46M81.46,349.72H82.75M82.75,351.19H84.07M84.07,352.7H85.42M85.42,354.23H86.8M86.8,355.81H88.21M88.21,357.42H89.66M89.66,359.06H91.14M91.14,360.75H92.66M92.66,362.48H94.21M94.21,364.26H95.81M95.81,366.09H97.45M97.45,367.96H99.14M99.14,369.89H100.87M100.87,371.87H102.66M102.66,373.91H104.49M104.49,376.02H106.39M106.39,378.19H108.35M108.35,380.43H110.37M110.37,382.75H112.47M112.47,385.15H114.63M114.63,387.64H116.88M116.88,390.22H119.22M119.22,392.9H121.64M121.64,395.69H124.17M124.17,398.6H126.81M126.81,401.65H129.57M129.57,404.83H132.46M132.46,408.16H135.5M135.5,411.67H138.69M138.69,415.37H142.06M142.06,419.28H145.64M145.64,423.43H149.43M149.43,427.84H153.48M153.48,432.56H157.81M157.81,437.63H162.49M162.49,443.1H167.55M167.55,449.06H173.07M173.07,455.58H179.14M179.14,462.78H185.89M185.89,470.84H193.49M193.49,479.97H202.17M202.17,490.52H212.31M212.31,502.99H224.49M224.49,518.25H239.74" stroke="#ff0000" stroke-width="5" stroke-linecap="round" fill="none"/>
<line x1="61.5" y1="394.4" x2="67.5" y2="394.4" stroke="#3a3a3a" stroke-width="1" />
<line x1="266.7" y1="394.4" x2="260.7" y2="394.4" stroke="#3a3a3a" stroke-width="1" />
<line x1="61.5" y1="462.8" x2="67.5" y2="462.8" stroke="#3a3a3a" stroke-width="1" />
<line x1="266.7" y1="462.8" x2="260.7" y2="462.8" stroke="#3a3a3a" stroke-width="1" />
<line x1="130" y1="531" x2="130" y2="525" stroke="#3a3a3a" stroke-width="1" />
<line x1="130" y1="326" x2="130" y2="332" stroke="#3a3a3a" stroke-width="1" />
<line x1="198.5" y1="531" x2="198.5" y2="525" stroke="#3a3a3a" stroke-width="1" />
<line x1="198.5" y1="326" x2="198.5" y2="332" stroke="#3a3a3a" stroke-width="1" />
<text x="58.4" y="331.2" font-size="15" text-anchor="end" fill="#000" stroke="#000" stroke-width="0.22" >0</text>
<text x="57.4" y="399.6" font-size="15" text-anchor="end" fill="#000" stroke="#000" stroke-width="0.22" >-1</text>
<text x="58.2" y="468" font-size="15" text-anchor="end" fill="#000" stroke="#000" stroke-width="0.22" >-2</text>
<text x="58.4" y="536.4" font-size="15" text-anchor="end" fill="#000" stroke="#000" stroke-width="0.22" >-3</text>
<text x="60.7" y="546.6" font-size="16" text-anchor="middle" fill="#000" stroke="#000" stroke-width="0.22" >0</text>
<text x="129.2" y="546.6" font-size="16" text-anchor="middle" fill="#000" stroke="#000" stroke-width="0.22" >500</text>
<text x="197.7" y="546.6" font-size="16" text-anchor="middle" fill="#000" stroke="#000" stroke-width="0.22" >1000</text>
<text x="266.2" y="546.6" font-size="16" text-anchor="middle" fill="#000" stroke="#000" stroke-width="0.22" >1500</text>
<text x="131.4" y="567.7" font-size="15.8" text-anchor="start" fill="#000" stroke="#000" stroke-width="0.22" textLength="73.2" lengthAdjust="spacingAndGlyphs" >Time (<tspan font-family="Liberation Serif">μ</tspan>s)</text>
<text x="0" y="0" font-size="14.5" text-anchor="start" fill="#000" stroke="#000" stroke-width="0.22" textLength="136" lengthAdjust="spacingAndGlyphs" transform="translate(35.6,487.6) rotate(-90)">ln(Intensity (a.u.))</text>
<circle cx="201.3" cy="347.8" r="2.6" fill="#0a0aa0"/>
<text x="218.8" y="353.4" font-size="15" text-anchor="start" fill="#000" stroke="#000" stroke-width="0.22" textLength="39.2" lengthAdjust="spacingAndGlyphs" >25<tspan font-size="12.5" dy="-6.5">o</tspan><tspan dy="6.5">C</tspan></text>
<circle cx="201.3" cy="365.3" r="2.6" fill="#1a8cff"/>
<text x="218.8" y="370.9" font-size="15" text-anchor="start" fill="#000" stroke="#000" stroke-width="0.22" textLength="39.2" lengthAdjust="spacingAndGlyphs" >30<tspan font-size="12.5" dy="-6.5">o</tspan><tspan dy="6.5">C</tspan></text>
<circle cx="201.3" cy="382.1" r="2.6" fill="#14823c"/>
<text x="218.8" y="387.7" font-size="15" text-anchor="start" fill="#000" stroke="#000" stroke-width="0.22" textLength="39.2" lengthAdjust="spacingAndGlyphs" >35<tspan font-size="12.5" dy="-6.5">o</tspan><tspan dy="6.5">C</tspan></text>
<circle cx="201.3" cy="399.9" r="2.6" fill="#ff8214"/>
<text x="218.8" y="405.5" font-size="15" text-anchor="start" fill="#000" stroke="#000" stroke-width="0.22" textLength="39.2" lengthAdjust="spacingAndGlyphs" >40<tspan font-size="12.5" dy="-6.5">o</tspan><tspan dy="6.5">C</tspan></text>
<circle cx="201.3" cy="417.1" r="2.6" fill="#ff0000"/>
<text x="218.8" y="422.7" font-size="15" text-anchor="start" fill="#000" stroke="#000" stroke-width="0.22" textLength="39.2" lengthAdjust="spacingAndGlyphs" >45<tspan font-size="12.5" dy="-6.5">o</tspan><tspan dy="6.5">C</tspan></text>
<text x="298" y="327.8" font-size="21" text-anchor="start" fill="#000" >(d)</text>
<rect x="382.5" y="332.3" width="198.7" height="199.4" fill="none" stroke="#3a3a3a" stroke-width="1.1"/>
<line x1="382.5" y1="498.48" x2="385.5" y2="498.48" stroke="#3a3a3a" stroke-width="1" />
<line x1="581.2" y1="498.48" x2="578.2" y2="498.48" stroke="#3a3a3a" stroke-width="1" />
<line x1="382.5" y1="465.25" x2="388.5" y2="465.25" stroke="#3a3a3a" stroke-width="1" />
<line x1="581.2" y1="465.25" x2="575.2" y2="465.25" stroke="#3a3a3a" stroke-width="1" />
<line x1="382.5" y1="432.03" x2="385.5" y2="432.03" stroke="#3a3a3a" stroke-width="1" />
<line x1="581.2" y1="432.03" x2="578.2" y2="432.03" stroke="#3a3a3a" stroke-width="1" />
<line x1="382.5" y1="398.8" x2="388.5" y2="398.8" stroke="#3a3a3a" stroke-width="1" />
<line x1="581.2" y1="398.8" x2="575.2" y2="398.8" stroke="#3a3a3a" stroke-width="1" />
<line x1="382.5" y1="365.58" x2="385.5" y2="365.58" stroke="#3a3a3a" stroke-width="1" />
<line x1="581.2" y1="365.58" x2="578.2" y2="365.58" stroke="#3a3a3a" stroke-width="1" />
<line x1="405.5" y1="531.7" x2="405.5" y2="525.7" stroke="#3a3a3a" stroke-width="1" />
<line x1="405.5" y1="332.3" x2="405.5" y2="338.3" stroke="#3a3a3a" stroke-width="1" />
<line x1="445.4" y1="531.7" x2="445.4" y2="525.7" stroke="#3a3a3a" stroke-width="1" />
<line x1="445.4" y1="332.3" x2="445.4" y2="338.3" stroke="#3a3a3a" stroke-width="1" />
<line x1="485.3" y1="531.7" x2="485.3" y2="525.7" stroke="#3a3a3a" stroke-width="1" />
<line x1="485.3" y1="332.3" x2="485.3" y2="338.3" stroke="#3a3a3a" stroke-width="1" />
<line x1="525.2" y1="531.7" x2="525.2" y2="525.7" stroke="#3a3a3a" stroke-width="1" />
<line x1="525.2" y1="332.3" x2="525.2" y2="338.3" stroke="#3a3a3a" stroke-width="1" />
<line x1="565.1" y1="531.7" x2="565.1" y2="525.7" stroke="#3a3a3a" stroke-width="1" />
<line x1="565.1" y1="332.3" x2="565.1" y2="338.3" stroke="#3a3a3a" stroke-width="1" />
<text x="379.8" y="537.3" font-size="16.5" text-anchor="end" fill="#000" stroke="#000" stroke-width="0.22" >400</text>
<text x="379.8" y="470.85" font-size="16.5" text-anchor="end" fill="#000" stroke="#000" stroke-width="0.22" >450</text>
<text x="379.8" y="404.4" font-size="16.5" text-anchor="end" fill="#000" stroke="#000" stroke-width="0.22" >500</text>
<text x="379.8" y="337.95" font-size="16.5" text-anchor="end" fill="#000" stroke="#000" stroke-width="0.22" >550</text>
<text x="405.5" y="547.2" font-size="16.2" text-anchor="middle" fill="#000" stroke="#000" stroke-width="0.22" >25</text>
<text x="445.4" y="547.2" font-size="16.2" text-anchor="middle" fill="#000" stroke="#000" stroke-width="0.22" >30</text>
<text x="485.3" y="547.2" font-size="16.2" text-anchor="middle" fill="#000" stroke="#000" stroke-width="0.22" >35</text>
<text x="525.2" y="547.2" font-size="16.2" text-anchor="middle" fill="#000" stroke="#000" stroke-width="0.22" >40</text>
<text x="565.1" y="547.2" font-size="16.2" text-anchor="middle" fill="#000" stroke="#000" stroke-width="0.22" >45</text>
<text x="419.6" y="567.8" font-size="15.5" text-anchor="start" fill="#000" stroke="#000" stroke-width="0.22" textLength="123.6" lengthAdjust="spacingAndGlyphs" >Temperature(<tspan font-size="12" dy="-6.5">o</tspan><tspan dy="6.5">C)</tspan></text>
<text x="0" y="0" font-size="15.5" text-anchor="start" fill="#000" stroke="#000" stroke-width="0.22" textLength="198.3" lengthAdjust="spacingAndGlyphs" transform="translate(346.2,528.8) rotate(-90)">Fluorescence Lifetime ( <tspan font-family="Liberation Serif">μ</tspan>s)</text>
<line x1="405.5" y1="363.52" x2="405.5" y2="384.78" stroke="#555" stroke-width="1.1" />
<line x1="402.3" y1="363.52" x2="408.7" y2="363.52" stroke="#222" stroke-width="1.1" />
<line x1="402.3" y1="384.78" x2="408.7" y2="384.78" stroke="#222" stroke-width="1.1" />
<circle cx="405.5" cy="374.15" r="3.1" fill="#000"/>
<line x1="445.4" y1="395.28" x2="445.4" y2="410.16" stroke="#555" stroke-width="1.1" />
<line x1="442.2" y1="395.28" x2="448.6" y2="395.28" stroke="#222" stroke-width="1.1" />
<line x1="442.2" y1="410.16" x2="448.6" y2="410.16" stroke="#222" stroke-width="1.1" />
<circle cx="445.4" cy="402.72" r="3.1" fill="#000"/>
<line x1="485.3" y1="421.46" x2="485.3" y2="434.49" stroke="#555" stroke-width="1.1" />
<line x1="482.1" y1="421.46" x2="488.5" y2="421.46" stroke="#222" stroke-width="1.1" />
<line x1="482.1" y1="434.49" x2="488.5" y2="434.49" stroke="#222" stroke-width="1.1" />
<circle cx="485.3" cy="427.97" r="3.1" fill="#000"/>
<line x1="525.2" y1="449.5" x2="525.2" y2="454.29" stroke="#555" stroke-width="1.1" />
<line x1="522" y1="449.5" x2="528.4" y2="449.5" stroke="#222" stroke-width="1.1" />
<line x1="522" y1="454.29" x2="528.4" y2="454.29" stroke="#222" stroke-width="1.1" />
<circle cx="525.2" cy="451.9" r="3.1" fill="#000"/>
<line x1="565.1" y1="479.94" x2="565.1" y2="483.66" stroke="#555" stroke-width="1.1" />
<line x1="561.9" y1="479.94" x2="568.3" y2="479.94" stroke="#222" stroke-width="1.1" />
<line x1="561.9" y1="483.66" x2="568.3" y2="483.66" stroke="#222" stroke-width="1.1" />
<circle cx="565.1" cy="481.8" r="3.1" fill="#000"/>
</svg>
</body></html>
